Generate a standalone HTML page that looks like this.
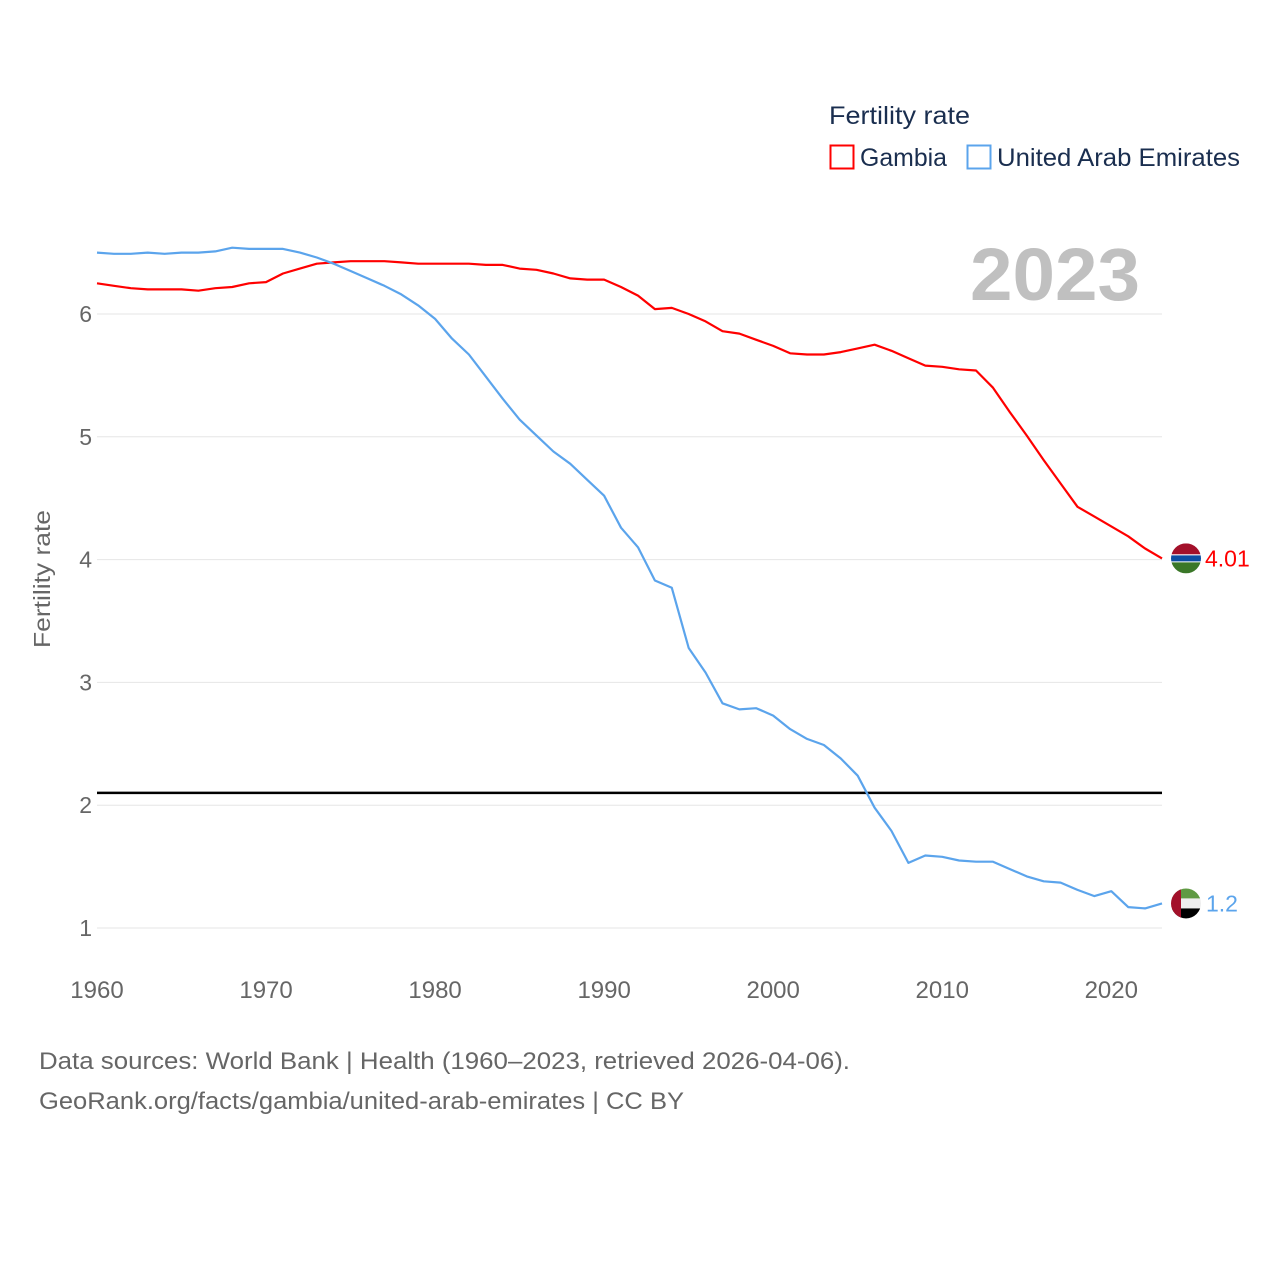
<!DOCTYPE html>
<html><head><meta charset="utf-8"><style>
body{margin:0;background:#fff;font-family:"Liberation Sans",sans-serif}
svg text{font-family:"Liberation Sans",sans-serif}
</style></head><body>
<svg id="chart" width="1280" height="1280" viewBox="0 0 1280 1280" xmlns="http://www.w3.org/2000/svg">
<rect width="1280" height="1280" fill="#fff"/>
<g id="grid"></g>
<g id="xticks"></g>
<text x="1140" y="300" text-anchor="end" font-size="74" font-weight="bold" fill="#c0c0c0" textLength="170" lengthAdjust="spacingAndGlyphs">2023</text>
<text transform="translate(50,579) rotate(-90)" text-anchor="middle" font-size="23" fill="#666" textLength="138" lengthAdjust="spacingAndGlyphs">Fertility rate</text>
<g id="series"></g>
<g>
<text x="829" y="124" font-size="25" fill="#1a2e4f" textLength="141" lengthAdjust="spacingAndGlyphs">Fertility rate</text>
<rect x="830.5" y="145.5" width="23" height="23" fill="none" stroke="#ff0000" stroke-width="2"/>
<text x="860" y="166" font-size="25" fill="#1a2e4f" textLength="87" lengthAdjust="spacingAndGlyphs">Gambia</text>
<rect x="967.5" y="145.5" width="23" height="23" fill="none" stroke="#5ba4ec" stroke-width="2"/>
<text x="997" y="166" font-size="25" fill="#1a2e4f" textLength="243" lengthAdjust="spacingAndGlyphs">United Arab Emirates</text>
</g>
<text x="39" y="1069" font-size="24" fill="#666" textLength="811" lengthAdjust="spacingAndGlyphs">Data sources: World Bank | Health (1960–2023, retrieved 2026-04-06).</text>
<text x="39" y="1109" font-size="24" fill="#666" textLength="645" lengthAdjust="spacingAndGlyphs">GeoRank.org/facts/gambia/united-arab-emirates | CC BY</text>
</svg>
<script>
const years = [];
for (let y = 1960; y <= 2023; y++) years.push(y);
const gambia = [6.25,6.23,6.21,6.20,6.20,6.20,6.19,6.21,6.22,6.25,6.26,6.33,6.37,6.41,6.42,6.43,6.43,6.43,6.42,6.41,6.41,6.41,6.41,6.40,6.40,6.37,6.36,6.33,6.29,6.28,6.28,6.22,6.15,6.04,6.05,6.00,5.94,5.86,5.84,5.79,5.74,5.68,5.67,5.67,5.69,5.72,5.75,5.70,5.64,5.58,5.57,5.55,5.54,5.40,5.20,5.01,4.81,4.62,4.43,4.35,4.27,4.19,4.09,4.01];
const uae = [6.50,6.49,6.49,6.50,6.49,6.50,6.50,6.51,6.54,6.53,6.53,6.53,6.50,6.46,6.41,6.35,6.29,6.23,6.16,6.07,5.96,5.80,5.67,5.49,5.31,5.14,5.01,4.88,4.78,4.65,4.52,4.26,4.10,3.83,3.77,3.28,3.08,2.83,2.78,2.79,2.73,2.62,2.54,2.49,2.38,2.24,1.98,1.79,1.53,1.59,1.58,1.55,1.54,1.54,1.48,1.42,1.38,1.37,1.31,1.26,1.30,1.17,1.16,1.20];
const yTicks = [1,2,3,4,5,6];
const xTicks = [1960,1970,1980,1990,2000,2010,2020];
const replacement = 2.1;

const NS = "http://www.w3.org/2000/svg";
const X0 = 97, X1 = 1162;
const sx = yr => X0 + (yr - 1960) * (X1 - X0) / (2023 - 1960);
const sy = v => 928 - (v - 1) * 122.8;
function mk(tag, attrs, parent){const e=document.createElementNS(NS,tag);for(const k in attrs)e.setAttribute(k,attrs[k]);parent.appendChild(e);return e;}
const grid = document.getElementById('grid');
yTicks.forEach(t=>{
  const l = mk('line',{x1:97,x2:1162,y1:sy(t),y2:sy(t),stroke:'#e6e6e6','stroke-width':1},grid);
  
  
  const tx = mk('text',{x:92,y:sy(t)+8,'text-anchor':'end','font-size':23,fill:'#666'},grid);
  tx.textContent = t;
  
  
});
const xt = document.getElementById('xticks');
xTicks.forEach(t=>{
  const tx = mk('text',{x:sx(t),y:998,'text-anchor':'middle','font-size':24,fill:'#666'},xt);
  tx.textContent = t;
  
  
});
const ser = document.getElementById('series');
const rl = mk('line',{x1:97,x2:1162,y1:sy(replacement),y2:sy(replacement),stroke:'#000','stroke-width':2.5},ser);


function line(data,color,name){
  const d = data.map((v,i)=>(i?'L':'M')+sx(years[i]).toFixed(1)+' '+sy(v).toFixed(1)).join(' ');
  const p = mk('path',{d:d,fill:'none',stroke:color,'stroke-width':2.2,'stroke-linejoin':'round'},ser);
  
  
}
line(gambia,'#ff0000','gambia-line');
line(uae,'#5ba4ec','uae-line');
function flagG(cy){
  const g = mk('g',{},ser);
  
  
  const cp = mk('clipPath',{id:'cg'},g); mk('circle',{cx:1186,cy:cy,r:15},cp);
  const h = mk('g',{'clip-path':'url(#cg)'},g);
  mk('rect',{x:1170,y:cy-15,width:32,height:11,fill:'#a3102a'},h);
  mk('rect',{x:1170,y:cy-4,width:32,height:8,fill:'#fff'},h);
  mk('rect',{x:1170,y:cy-3,width:32,height:6,fill:'#0c4da2'},h);
  mk('rect',{x:1170,y:cy+4,width:32,height:11,fill:'#3a7728'},h);
  const t = mk('text',{x:1205,y:cy+8,'font-size':23,fill:'#ff0000'},ser);
  t.textContent = gambia[gambia.length-1].toFixed(2);
  
  
}
function flagU(cy){
  const g = mk('g',{},ser);
  
  
  const cp = mk('clipPath',{id:'cu'},g); mk('circle',{cx:1186,cy:cy,r:15},cp);
  const h = mk('g',{'clip-path':'url(#cu)'},g);
  mk('rect',{x:1170,y:cy-15,width:32,height:10,fill:'#5f9a43'},h);
  mk('rect',{x:1170,y:cy-5,width:32,height:10,fill:'#eee'},h);
  mk('rect',{x:1170,y:cy+5,width:32,height:10,fill:'#000'},h);
  mk('rect',{x:1170,y:cy-15,width:11,height:30,fill:'#a3102a'},h);
  const t = mk('text',{x:1206,y:cy+8,'font-size':23,fill:'#5ba4ec'},ser);
  t.textContent = uae[uae.length-1].toFixed(1);
  
  
}
flagG(sy(gambia[gambia.length-1]));
flagU(sy(uae[uae.length-1]));
</script>
</body></html>
